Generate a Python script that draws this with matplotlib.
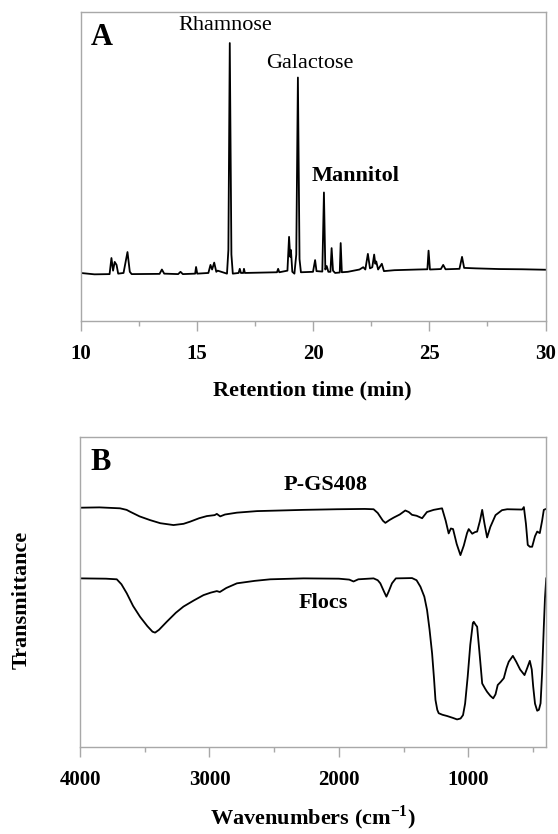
import matplotlib
matplotlib.use("Agg")
import matplotlib.pyplot as plt
from matplotlib.ticker import MultipleLocator

plt.rcParams["font.family"] = ["Liberation Serif", "DejaVu Serif"]
plt.rcParams["mathtext.fontset"] = "custom"
plt.rcParams["mathtext.rm"] = "Liberation Serif:bold"
plt.rcParams["mathtext.bf"] = "Liberation Serif:bold"

# panel A: GC trace (retention time in min, relative signal)
rt = [10.0, 10.6, 11.25, 11.33, 11.40, 11.47, 11.55, 11.62, 11.85, 12.02,
      12.12, 12.2, 13.4, 13.5, 13.6, 14.2, 14.3, 14.4, 14.93, 14.97,
      15.02, 15.5, 15.59, 15.66, 15.75, 15.84, 15.9, 16.3, 16.36, 16.42,
      16.49, 16.55, 16.8, 16.85, 16.9, 17.0, 17.03, 17.07, 18.45, 18.5,
      18.55, 18.9, 18.97, 19.02, 19.05, 19.11, 19.2, 19.28, 19.35, 19.42,
      19.48, 20.0, 20.09, 20.15, 20.4, 20.47, 20.53, 20.59, 20.66, 20.75,
      20.8, 20.86, 20.95, 21.15, 21.19, 21.24, 21.5, 22.0, 22.16, 22.25,
      22.36, 22.45, 22.55, 22.63, 22.68, 22.72, 22.8, 22.96, 23.05, 23.5,
      24.5, 24.92, 24.97, 25.03, 25.5, 25.6, 25.7, 26.3, 26.41, 26.5,
      27.0, 28.0, 29.0, 30.0]
signal = [0, -0.6, -0.5, 6.5, 1.0, 4.8, 3.5, -0.3, 0, 9.1,
          0.5, -0.5, -0.4, 1.5, -0.3, -0.5, 0.5, -0.5, -0.3, 2.6,
          -0.3, 0, 3.5, 1.5, 4.5, 0.5, 1.0, -0.3, 10, 100,
          8, -0.3, 0, 1.8, 0, 0, 1.8, 0, 0.3, 1.8,
          0.3, 1, 15.7, 7, 10, 0.5, -0.3, 8, 85, 6,
          0.3, 0.5, 5.6, 0.8, 0.6, 35, 1.5, 3, 0.5, 0.5,
          10.8, 1, 0, 0.2, 13, 0.3, 0.5, 1.5, 2.5, 1.5,
          8.3, 2, 2.5, 8, 4, 5, 1.5, 4, 0.8, 1.2,
          1.5, 1.6, 9.7, 1.5, 1.7, 3.5, 1.6, 1.8, 7, 2.2,
          2, 1.7, 1.6, 1.4]

# panel B: FTIR spectra (wavenumber, transmittance offset)
pgs_wn = [3995, 3850, 3691, 3640, 3613, 3540, 3459, 3380, 3278, 3200,
          3149, 3080, 3020, 2960, 2943, 2917, 2880, 2788, 2633, 2450,
          2273, 2015, 1800, 1732, 1700, 1660, 1641, 1610, 1577, 1530,
          1487, 1460, 1435, 1400, 1357, 1320, 1268, 1203, 1175, 1152,
          1135, 1118, 1090, 1061, 1035, 1010, 997, 970, 950, 932,
          910, 893, 875, 855, 830, 790, 740, 700, 584, 571,
          555, 541, 525, 507, 485, 468, 448, 430, 417, 400]
pgs_t = [77.2, 77.3, 77.0, 76.5, 75.9, 74.4, 73.2, 72.2, 71.6, 72.0,
         72.7, 73.8, 74.5, 74.8, 75.2, 74.4, 75.0, 75.6, 76.1, 76.3,
         76.5, 76.7, 76.8, 76.7, 75.5, 73.0, 72.3, 73.2, 74.0, 75.0,
         76.3, 75.8, 74.9, 74.6, 73.8, 75.8, 76.5, 77.0, 73.0, 68.9,
         70.5, 70.3, 65.5, 61.9, 65.0, 69.0, 70.3, 68.8, 69.3, 69.5,
         73.0, 76.5, 72.0, 67.6, 71.0, 74.8, 76.4, 76.7, 76.6, 77.4,
         72.0, 65.2, 64.6, 64.6, 68.0, 69.5, 69.0, 73.0, 76.5, 76.8]

flocs_wn = [3995, 3800, 3716, 3680, 3639, 3590, 3536, 3480, 3440, 3420,
            3390, 3330, 3260, 3201, 3120, 3046, 2990, 2943, 2920, 2870,
            2788, 2650, 2530, 2273, 2000, 1920, 1887, 1850, 1732, 1700,
            1680, 1650, 1633, 1615, 1590, 1560, 1435, 1400, 1370, 1340,
            1319, 1300, 1280, 1265, 1254, 1240, 1229, 1200, 1164, 1120,
            1087, 1060, 1041, 1025, 1005, 985, 965, 958, 945, 932,
            915, 893, 870, 855, 830, 808, 790, 773, 750, 726,
            705, 688, 656, 630, 600, 566, 545, 525, 510, 499,
            485, 468, 455, 442, 430, 417, 408, 398]
flocs_t = [54.4, 54.3, 54.1, 52.5, 49.6, 45.5, 42.0, 39.0, 37.2, 36.9,
           37.8, 40.4, 43.3, 45.3, 47.3, 49.0, 49.8, 50.3, 50.0, 51.3,
           52.8, 53.6, 54.1, 54.4, 54.3, 54.0, 53.4, 54.1, 54.4, 53.8,
           52.8, 50.0, 48.5, 50.2, 52.8, 54.4, 54.5, 53.8, 51.7, 48.5,
           44.2, 38.0, 30.2, 22.0, 15.2, 12.0, 10.9, 10.4, 10.0, 9.4,
           8.9, 9.2, 10.3, 14.0, 22.7, 33.0, 40.0, 40.4, 39.5, 38.8,
           31.0, 20.5, 18.8, 17.8, 16.5, 15.7, 17.0, 20.0, 21.0, 22.2,
           25.5, 27.5, 29.4, 27.5, 25.0, 23.2, 25.5, 27.8, 25.0, 19.5,
           14.0, 11.7, 12.0, 14.1, 24.0, 38.8, 48.0, 54.4]

spine_col = "#a8a8a8"


def style_axes(ax):
    for s in ax.spines.values():
        s.set_color(spine_col)
        s.set_linewidth(1.0)
    ax.set_yticks([])
    ax.tick_params(axis="x", which="major", direction="out", length=7.2,
                   width=1.0, color=spine_col, pad=9, labelsize=15)
    ax.tick_params(axis="x", which="minor", direction="out", length=3.6,
                   width=1.0, color=spine_col)
    for lab in ax.get_xticklabels():
        lab.set_fontweight("bold")


fig = plt.figure(figsize=(5.58, 8.34), dpi=100)

# ---- A ----
ax1 = fig.add_axes([0.1443, 0.6151, 0.8333, 0.3705])
ax1.plot(rt, signal, color="black", lw=1.3)
ax1.set_xlim(10, 30)
ax1.set_ylim(-20.9, 113.5)
ax1.xaxis.set_major_locator(MultipleLocator(5))
ax1.xaxis.set_minor_locator(MultipleLocator(2.5))
style_axes(ax1)
ax1.text(0.022, 0.965, "A", transform=ax1.transAxes, fontsize=22,
         fontweight="bold", va="top", ha="left")
ax1.text(16.21, 107.8, "Rhamnose", fontsize=16, ha="center", va="center")
ax1.text(19.87, 91, "Galactose", fontsize=16, ha="center", va="center")
ax1.text(21.81, 42.2, "Mannitol", fontsize=16, fontweight="bold",
         ha="center", va="center")
fig.text(0.5605, 1 - 390 / 834, "Retention time (min)", fontsize=16,
         fontweight="bold", ha="center", va="center")

# ---- B ----
ax2 = fig.add_axes([0.1434, 0.1043, 0.8351, 0.3717])
ax2.plot(pgs_wn, pgs_t, color="black", lw=1.3)
ax2.plot(flocs_wn, flocs_t, color="black", lw=1.3)
ax2.set_xlim(4000, 400)
ax2.set_ylim(0, 100)
ax2.xaxis.set_major_locator(MultipleLocator(1000))
ax2.xaxis.set_minor_locator(MultipleLocator(500))
style_axes(ax2)
ax2.text(0.022, 0.965, "B", transform=ax2.transAxes, fontsize=22,
         fontweight="bold", va="top", ha="left")
ax2.text(2105, 84.5, "P-GS408", fontsize=16, fontweight="bold",
         ha="center", va="center")
ax2.text(2121, 46.5, "Flocs", fontsize=16, fontweight="bold",
         ha="center", va="center")
fig.text(0.5605, 1 - 818 / 834, r"Wavenumbers (cm$^{\mathbf{-1}}$)",
         fontsize=16, fontweight="bold", ha="center", va="center")
fig.text(22 / 558, 1 - 600 / 834, "Transmittance", fontsize=16,
         fontweight="bold", rotation=90, ha="center", va="center")

fig.savefig("out.png", dpi=100)
